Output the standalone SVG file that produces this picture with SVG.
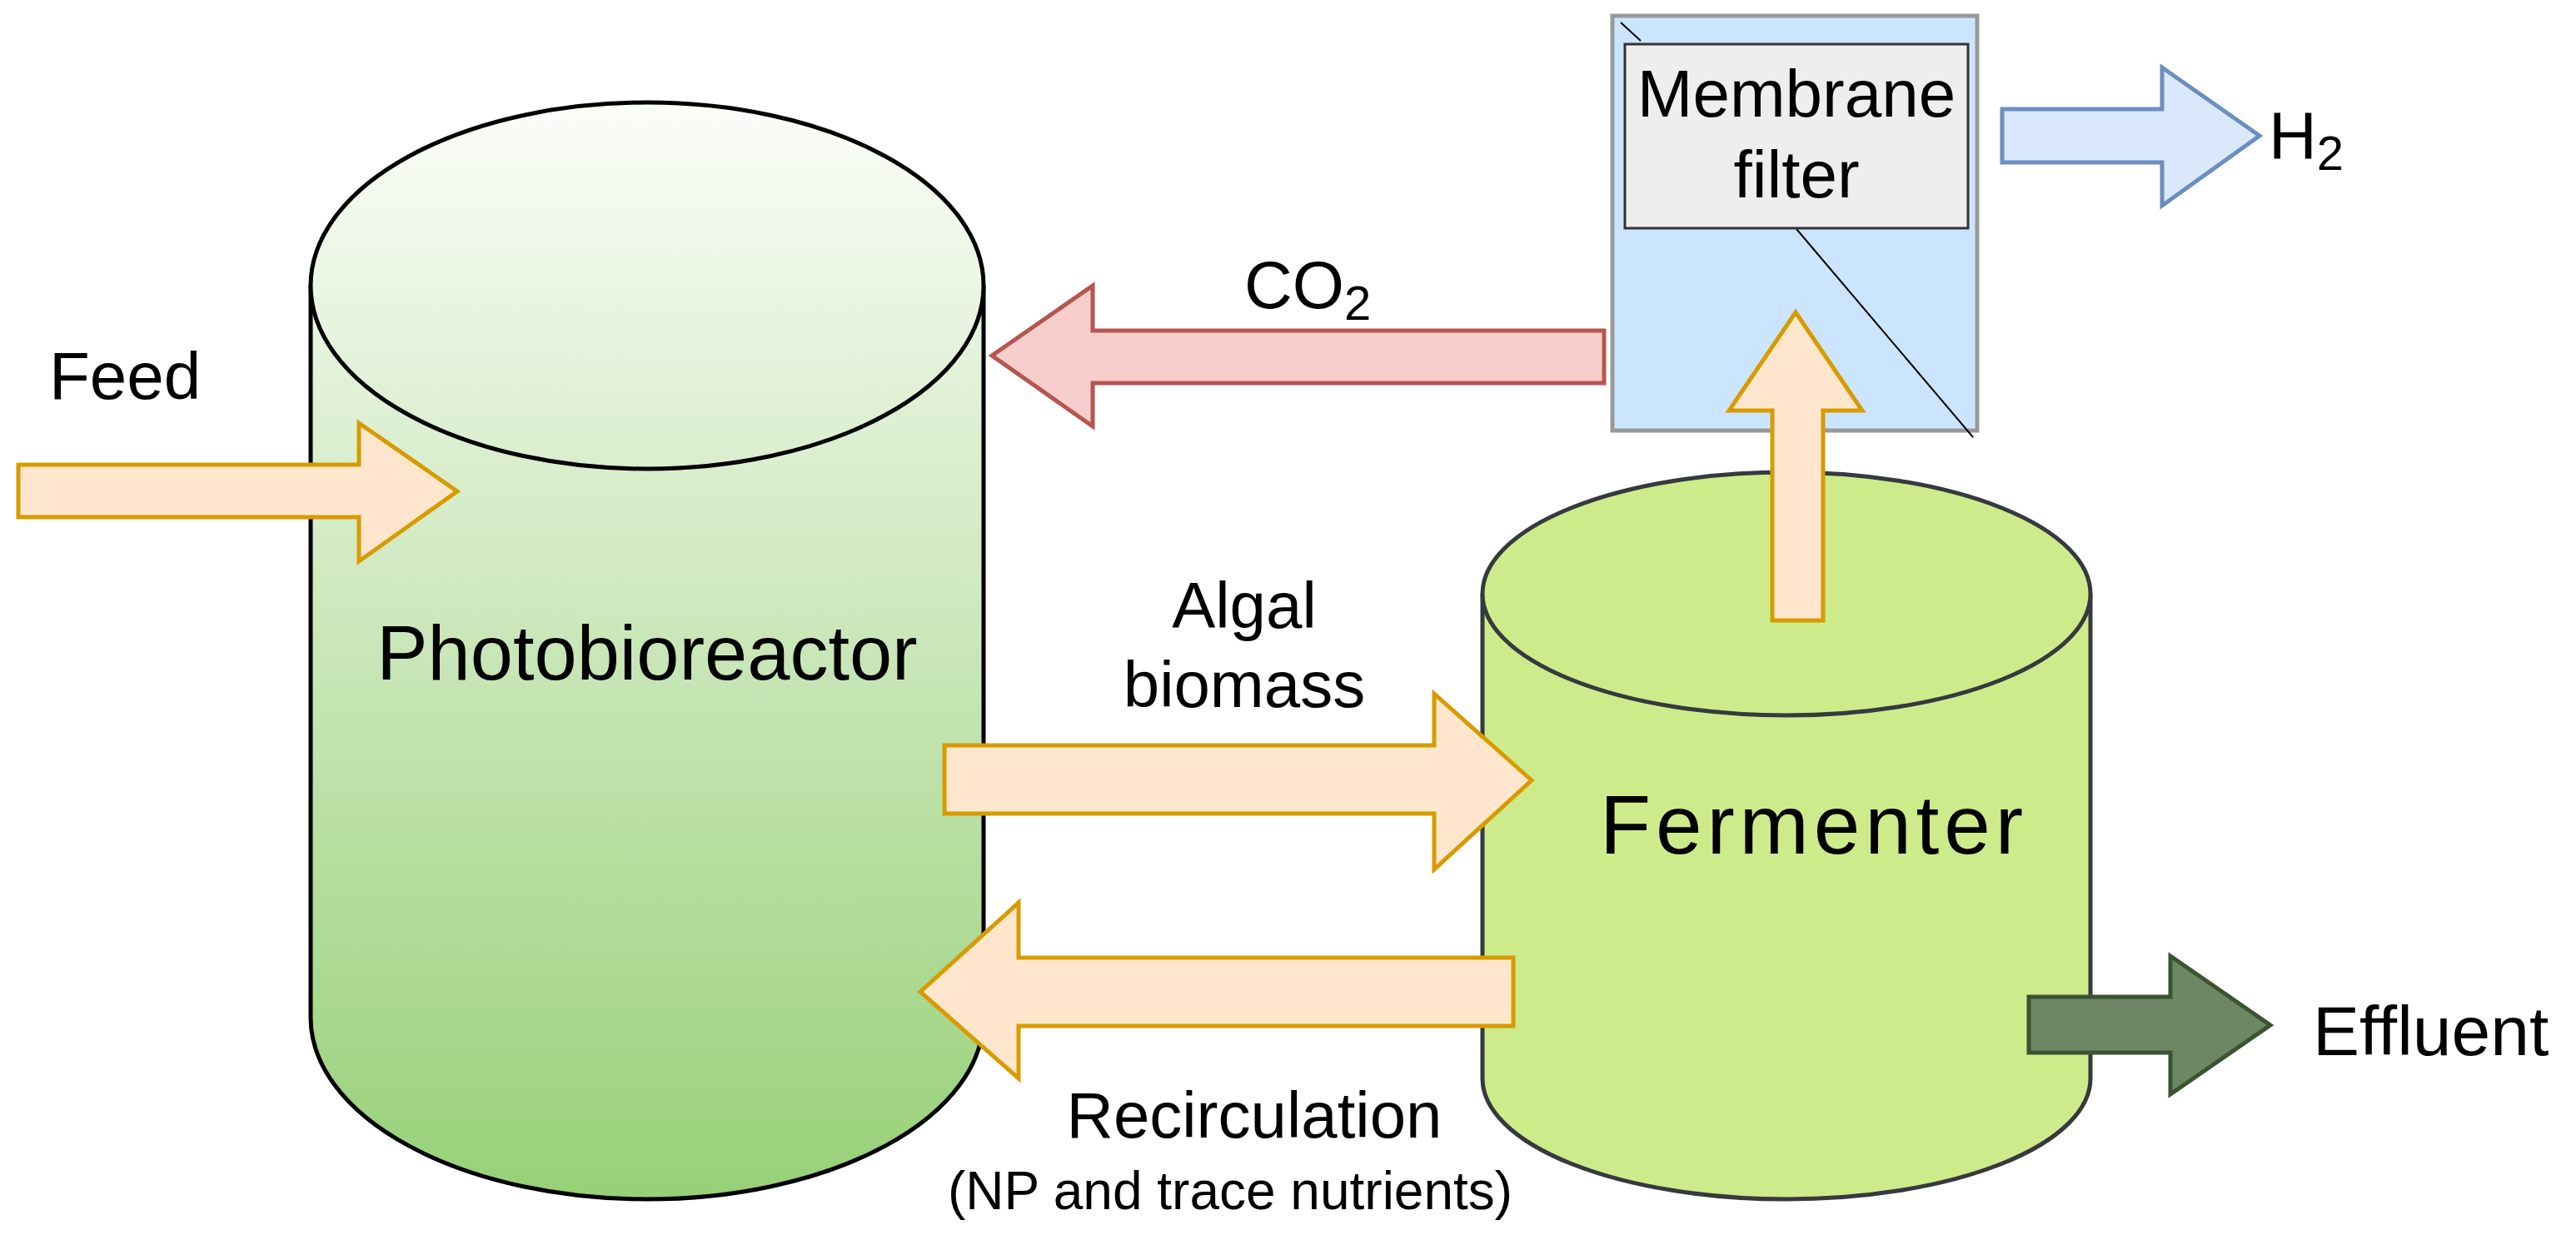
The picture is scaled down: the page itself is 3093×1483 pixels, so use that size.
<svg xmlns="http://www.w3.org/2000/svg" width="3093" height="1483" viewBox="0 0 3093 1483">
<defs>
<linearGradient id="g" gradientUnits="userSpaceOnUse" x1="0" y1="123" x2="0" y2="1440"><stop offset="0" stop-color="#fbfdf9"/><stop offset="1" stop-color="#97d077"/></linearGradient>
<style>
text{font-family:"Liberation Sans",Arial,sans-serif;fill:#000}
.o{fill:#ffe6cc;stroke:#d79b00;stroke-width:5}
</style>
</defs>
<rect width="3093" height="1483" fill="#fff"/>
<g id="photobioreactor">
<path d="M373,343 V1222 A404,218 0 0 0 1181,1222 V343" fill="url(#g)" stroke="#000" stroke-width="5"/>
<ellipse cx="777" cy="343" rx="404" ry="220" fill="url(#g)" stroke="#000" stroke-width="5"/>
<text x="777" y="816" font-size="92" text-anchor="middle">Photobioreactor</text>
</g>
<g id="fermenter">
<path d="M1780,713 V1295 A365,145 0 0 0 2510,1295 V713" fill="#cdeb8b" stroke="#36393d" stroke-width="5"/>
<ellipse cx="2145" cy="713" rx="365" ry="146" fill="#cdeb8b" stroke="#36393d" stroke-width="5"/>
<text x="2175" y="1025" font-size="100" text-anchor="middle" textLength="508" lengthAdjust="spacing">Fermenter</text>
</g>
<g id="membrane">
<rect x="1936" y="19" width="438" height="498" fill="#cce5ff" stroke="#999" stroke-width="5"/>
<line x1="1946" y1="27" x2="1970" y2="49" stroke="#000" stroke-width="2"/>
<line x1="2157" y1="275" x2="2369" y2="525" stroke="#000" stroke-width="2"/>
<rect x="1951" y="53" width="412" height="221" fill="#eeeeee" stroke="#333" stroke-width="3"/>
<text x="2157" y="140" font-size="80" text-anchor="middle">Membrane</text>
<text x="2157" y="237" font-size="80" text-anchor="middle">filter</text>
</g>
<g id="connectors">
<polygon class="o" points="22,558 431,558 431,508 549,590 431,674 431,621 22,621"/>
<polygon points="1926,397 1312,397 1312,343 1191,427 1312,512 1312,460 1926,460" fill="#f8cecc" stroke="#b85450" stroke-width="5"/>
<polygon points="2404,131 2596,131 2596,81 2713,163 2596,247 2596,195 2404,195" fill="#dae8fc" stroke="#6c8ebf" stroke-width="5"/>
<polygon class="o" points="2128,745 2128,493 2076,493 2156,375 2236,493 2189,493 2189,745"/>
<polygon class="o" points="1134,895 1722,895 1722,833 1839,937 1722,1044 1722,977 1134,977"/>
<polygon class="o" points="1817,1150 1223,1150 1223,1084 1105,1191 1223,1295 1223,1232 1817,1232"/>
<polygon points="2436,1197 2606,1197 2606,1148 2726,1231 2606,1314 2606,1264 2436,1264" fill="#6d8764" stroke="#3a5431" stroke-width="5"/>
</g>
<g id="labels">
<text x="59" y="479" font-size="80">Feed</text>
<text x="1494" y="370" font-size="80">CO<tspan font-size="58" dy="14">2</tspan></text>
<text x="2724" y="190" font-size="80">H<tspan font-size="58" dy="14">2</tspan></text>
<text x="1494" y="754" font-size="78" text-anchor="middle">Algal</text>
<text x="1494" y="849" font-size="78" text-anchor="middle">biomass</text>
<text x="1506" y="1366" font-size="78" text-anchor="middle">Recirculation</text>
<text x="1477" y="1452" font-size="64" text-anchor="middle">(NP and trace nutrients)</text>
<text x="2777" y="1267" font-size="84">Effluent</text>
</g>
</svg>
